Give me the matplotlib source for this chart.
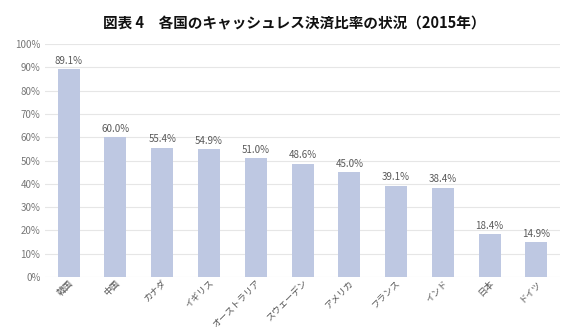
import matplotlib.pyplot as plt

plt.rcParams['font.family'] = ['Noto Sans CJK JP', 'DejaVu Sans']

countries = ['韓国', '中国', 'カナダ', 'イギリス', 'オーストラリア', 'スウェーデン',
             'アメリカ', 'フランス', 'インド', '日本', 'ドイツ']
rates = [89.1, 60.0, 55.4, 54.9, 51.0, 48.6, 45.0, 39.1, 38.4, 18.4, 14.9]
yticks = [0, 10, 20, 30, 40, 50, 60, 70, 80, 90, 100]

fig = plt.figure(figsize=(5.88, 3.29), dpi=100)
ax = fig.add_axes([0.077, 0.158, 0.875, 0.708])

x = range(len(countries))
ax.bar(x, rates, width=0.47, color='#bec8e2', zorder=2)
for i, v in zip(x, rates):
    ax.text(i, v + 1.5, f'{v:.1f}%', ha='center', va='bottom', fontsize=7, color='#595959')

ax.set_ylim(0, 100)
ax.set_xlim(-0.5, len(countries) - 0.5)
ax.set_yticks(yticks)
ax.set_yticklabels([f'{t}%' for t in yticks], fontsize=7, color='#777777')
ax.set_xticks(list(x))
ax.set_xticklabels(countries, rotation=45, ha='right', rotation_mode='anchor',
                   fontsize=6.5, color='#555555')
ax.tick_params(length=0)
ax.tick_params(axis='x', pad=1)
ax.grid(axis='y', color='#e6e6e6', linewidth=0.8, zorder=0)
for s in ax.spines.values():
    s.set_visible(False)

fig.text(0.5, 0.93, '図表 4　各国のキャッシュレス決済比率の状況（2015年）',
         ha='center', va='center', fontsize=10.5, fontweight='bold', color='#111111')

fig.savefig('out.png', dpi=100)
